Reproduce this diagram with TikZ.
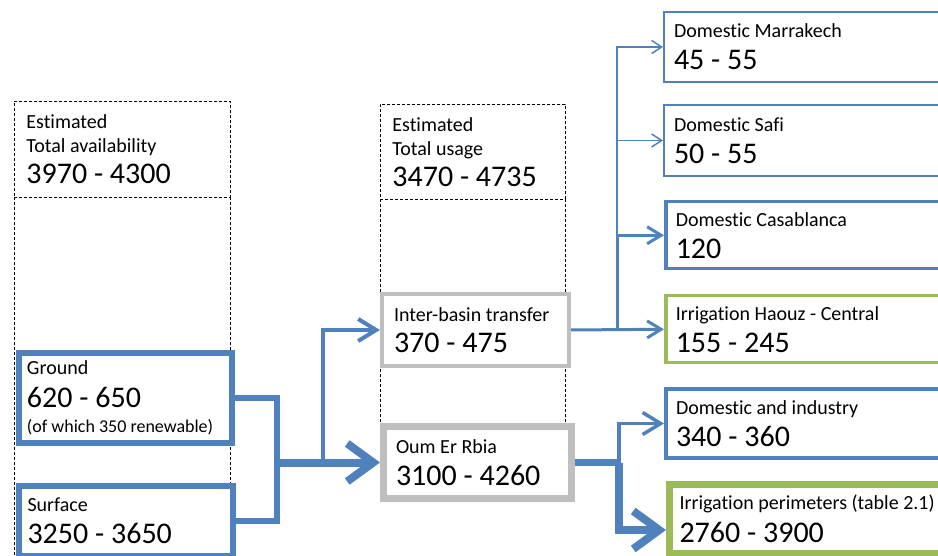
\documentclass[tikz,border=0pt]{standalone}
\usepackage{fontspec}
\setmainfont{Carlito}[Ligatures={NoCommon}]
\usetikzlibrary{positioning,arrows.meta}
\definecolor{flowblue}{HTML}{4F81BD}
\definecolor{irrgreen}{HTML}{9BBB59}
\definecolor{boxgrey}{HTML}{BFBFBF}
\newcommand{\lbltxt}{\fontsize{20}{24}\selectfont}
\newcommand{\numtxt}{\fontsize{30}{24}\selectfont}
\newcommand{\notetxt}{\fontsize{18}{24}\selectfont}
\tikzset{
  cell/.style={draw, fill=white, anchor=north west, align=left,
    inner xsep=12pt, inner ysep=0pt, font=\lbltxt,
    execute at begin node={\spaceskip=0pt\xspaceskip=0pt\lineskiplimit=-20pt\relax}},
  wh/.style 2 args={minimum width=#1pt, minimum height=#2pt},
  estline/.style={line width=0.8pt, dash pattern=on 3pt off 2pt},
  est/.style={cell, estline},
  srcbox/.style={cell, draw=flowblue, line width=6pt, inner xsep=8pt, text width=197pt},
  midbox/.style={cell, draw=boxgrey, text width=163pt},
  usebox/.style={cell, inner xsep=10pt, text width=270pt},
  flow/.style={draw=flowblue},
  thinhead/.style={-{Straight Barb[length=10pt,width=13pt]}},
  midhead/.style={-{Straight Barb[length=14pt,width=17pt]}},
  widehead/.style={-{Straight Barb[length=18pt,width=22pt]}},
  bighead/.style={-{Straight Barb[length=26pt,width=38pt]}}
}
\begin{document}
\begin{tikzpicture}[x=1pt,y=-1pt]
\clip (0,0) rectangle (938,556);
% dashed estimate columns
\node[est, wh={216}{96}, text width=192pt] (availhead) at (14,101)
  {Estimated\\Total availability\\[7pt]\numtxt 3970 - 4300};
\node[cell, draw=none, fill=none, wh={216}{370}] (availcol) at (14,197) {};
\draw[estline] (availcol.north west) -- (availcol.south west)
  (availcol.north east) -- (availcol.south east);
\node[est, wh={185}{95}, text width=161pt] (usagehead) at (380,104)
  {Estimated\\Total usage\\[7pt]\numtxt 3470 - 4735};
\node[cell, draw=none, fill=none, wh={185}{260}] (usagecol) at (380,199) {};
\draw[estline] (usagecol.north west) -- (usagecol.south west)
  (usagecol.north east) -- (usagecol.south east);

% sources
\node[srcbox, wh={213}{90}] (ground) at (16,350)
  {Ground\\[9pt]\numtxt 620 - 650\\[1pt]\notetxt (of which 350 renewable)};
\node[srcbox, wh={214}{70}] (surface) at (16,483)
  {Surface\\[8pt]\numtxt 3250 - 3650};

% basins
\node[midbox, line width=4pt, wh={187}{72}] (inter) at (380,292)
  {Inter-basin transfer\\[7pt]\numtxt 370 - 475};
\node[midbox, line width=7pt, wh={188}{72}] (oum) at (380,423)
  {Oum Er Rbia\\[8pt]\numtxt 3100 - 4260};

% uses
\node[usebox, draw=flowblue, line width=2pt, wh={290}{70}] (marr) at (663,11)
  {Domestic Marrakech\\[8pt]\numtxt 45 - 55};
\node[usebox, draw=flowblue, line width=2pt, wh={290}{71}] (safi) at (663,104)
  {Domestic Safi\\[8pt]\numtxt 50 - 55};
\node[usebox, draw=flowblue, line width=3.5pt, wh={290}{67}] (casa) at (664,200)
  {Domestic Casablanca\\[8pt]\numtxt 120};
\node[usebox, draw=irrgreen, line width=3.5pt, wh={290}{67}] (haouz) at (664,294)
  {Irrigation Haouz - Central\\[8pt]\numtxt 155 - 245};
\node[usebox, draw=flowblue, line width=4pt, wh={290}{69}] (domind) at (664,387)
  {Domestic and industry\\[8pt]\numtxt 340 - 360};
\node[usebox, draw=irrgreen, line width=7pt, wh={290}{69}] (irrper) at (666,481)
  {Irrigation perimeters (table 2.1)\\[9pt]\numtxt 2760 - 3900};

% flows
\path (oum.west) ++(-103,0) coordinate (j1) ++(46,0) coordinate (j2);
\path (inter.east) ++(46,0) coordinate (t1);
\path (t1) ++(0,-93) coordinate (t2);
\path (oum.east) ++(44,0) coordinate (o1);
\draw[flow, line width=6pt] (ground.east) -| (j1) |- (surface.east);
\draw[flow, line width=8pt, bighead] (j1) -- (oum.west);
\draw[flow, line width=4pt, widehead] (j2) |- (inter.west);
\draw[flow, line width=3pt, midhead] (inter.east) -- (haouz.west);
\draw[flow, line width=3pt, midhead] (t1) |- (casa.west);
\draw[flow, line width=1.5pt, thinhead] (t2) |- (safi.west);
\draw[flow, line width=1.5pt, thinhead] (t2) |- (marr.west);
\draw[flow, line width=7pt] (oum.east) -- (o1);
\draw[flow, line width=3.5pt, widehead] (o1) |- (domind.west);
\draw[flow, line width=8pt, bighead] (o1) |- ([yshift=-11pt]irrper.west);
\end{tikzpicture}
\end{document}
